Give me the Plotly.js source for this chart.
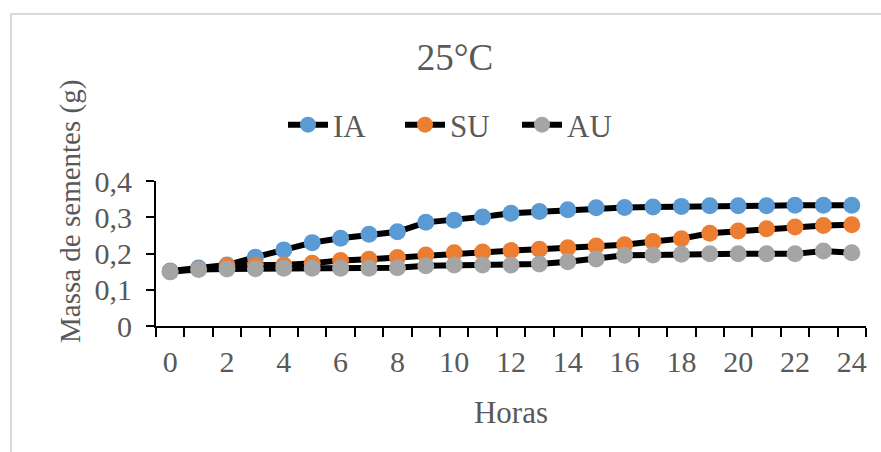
<!DOCTYPE html>
<html>
<head>
<meta charset="utf-8">
<script src="https://cdn.plot.ly/plotly-3.0.1.min.js"></script>
<style>
html,body{margin:0;padding:0;background:#fff;}
#chart{width:881px;height:452px;}
</style>
</head>
<body>
<div id="chart"></div>
<script>
const horas = [0,1,2,3,4,5,6,7,8,9,10,11,12,13,14,15,16,17,18,19,20,21,22,23,24];
const IA = [0.152,0.160,0.168,0.190,0.210,0.230,0.242,0.253,0.260,0.286,0.292,0.301,0.311,0.316,0.321,0.326,0.327,0.328,0.330,0.332,0.332,0.332,0.333,0.333,0.333];
const SU = [0.150,0.157,0.166,0.168,0.168,0.173,0.181,0.184,0.189,0.196,0.202,0.204,0.208,0.212,0.216,0.221,0.224,0.233,0.241,0.256,0.262,0.268,0.273,0.277,0.279];
const AU = [0.150,0.156,0.157,0.158,0.159,0.159,0.159,0.159,0.161,0.166,0.168,0.168,0.168,0.171,0.177,0.185,0.195,0.196,0.198,0.199,0.199,0.199,0.199,0.207,0.202];
const xTicks = [0,2,4,6,8,10,12,14,16,18,20,22,24];
const yTicks = [0,0.1,0.2,0.3,0.4];

const font = 'Liberation Serif, Times New Roman, serif';
const txt = '#595959';
function tr(name, y, color){
  return {x: horas, y: y, name: name, type:'scatter', mode:'lines+markers',
    line:{color:'#000', width:6}, marker:{color:color, size:17}};
}
const data = [tr('IA', IA, '#5B9BD5'), tr('SU', SU, '#ED7D31'), tr('AU', AU, '#A5A5A5')];

const W=881,H=452,L=156,R=15,T=181,B=126;
const pw=W-L-R, ph=H-T-B;
const px = v => (v-L)/pw, py = v => (H-B-v)/ph;

const layout = {
  width:W, height:H,
  margin:{l:L,r:R,t:T,b:B},
  paper_bgcolor:'#fff', plot_bgcolor:'#fff',
  separators:',.',
  font:{family:font, color:txt, size:30},
  title:{text:'25°C', font:{family:font, size:37, color:txt}, x:455/W, xref:'container', xanchor:'center', y:1-57/H, yanchor:'middle'},
  showlegend:true,
  legend:{orientation:'h', x:px(283), xanchor:'left', y:py(125), yanchor:'middle', font:{family:font,size:31,color:txt},
    itemwidth:40, entrywidth:62, entrywidthmode:'pixels', bgcolor:'rgba(0,0,0,0)'},
  xaxis:{range:[-0.5,24.5], tickmode:'array', tickvals:xTicks, ticks:'', showgrid:false, zeroline:false,
    showline:true, linecolor:'#000', linewidth:2, ticklabelstandoff:8,
    tickfont:{family:font,size:30,color:txt},
    minor:{tick0:-0.5, dtick:1, ticks:'outside', ticklen:9, tickwidth:2, tickcolor:'#000', showgrid:false},
    title:{text:'Horas', font:{family:font,size:31,color:txt}, standoff:24}},
  yaxis:{range:[0,0.4], tickmode:'array', tickvals:yTicks, ticks:'outside', ticklen:8, tickwidth:2, tickcolor:'#000',
    showgrid:false, zeroline:false, showline:true, linecolor:'#000', linewidth:2, ticklabelstandoff:8,
    tickfont:{family:font,size:30,color:txt}},
  annotations:[{text:'Massa de sementes (g)', textangle:-90, xref:'paper', yref:'paper', x:px(70), y:py(212),
    xanchor:'center', yanchor:'middle', showarrow:false, font:{family:font,size:29,color:txt}}],
  shapes:[{type:'rect', xref:'paper', yref:'paper', x0:px(11), x1:px(890), y0:py(460), y1:py(14),
    line:{color:'#d9d9d9', width:2}, fillcolor:'rgba(0,0,0,0)', layer:'below'}]
};
Plotly.newPlot('chart', data, layout, {staticPlot:true, displayModeBar:false});
</script>
</body>
</html>
